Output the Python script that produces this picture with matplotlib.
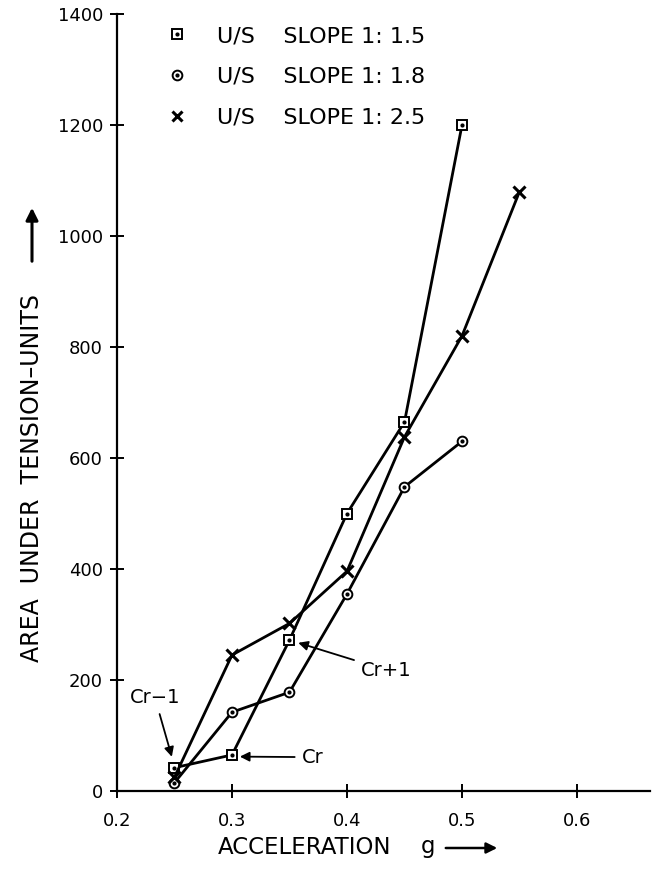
import matplotlib
matplotlib.use("Agg")
from matplotlib import pyplot as plt
from matplotlib.lines import Line2D
from matplotlib.legend_handler import HandlerTuple

accel_15 = [0.25, 0.30, 0.35, 0.40, 0.45, 0.50]
area_15 = [42, 65, 272, 500, 665, 1200]

accel_18 = [0.25, 0.30, 0.35, 0.40, 0.45, 0.50]
area_18 = [15, 142, 178, 355, 548, 630]

accel_25 = [0.25, 0.30, 0.35, 0.40, 0.45, 0.50, 0.55]
area_25 = [25, 245, 302, 396, 638, 820, 1080]

labels = ["U/S    SLOPE 1: 1.5", "U/S    SLOPE 1: 1.8", "U/S    SLOPE 1: 2.5"]
xticks = [0.2, 0.3, 0.4, 0.5, 0.6]
yticks = [0, 200, 400, 600, 800, 1000, 1200, 1400]

plt.rcParams["font.family"] = "DejaVu Sans"

fig = plt.figure(figsize=(6.55, 8.74), dpi=100)
W, H = 655, 874
ax = fig.add_axes([117 / W, 1 - 791 / H, (650 - 117) / W, (791 - 14) / H])

lw = 2.0
# slope 1:1.5 - square with centre dot
ax.plot(accel_15, area_15, color="black", lw=lw, zorder=2)
ax.plot(accel_15, area_15, "s", ms=7, mfc="white", mec="black", mew=1.4, zorder=3)
ax.plot(accel_15, area_15, "o", ms=2, color="black", zorder=4)
# slope 1:1.8 - circle with centre dot
ax.plot(accel_18, area_18, color="black", lw=lw, zorder=2)
ax.plot(accel_18, area_18, "o", ms=7, mfc="white", mec="black", mew=1.4, zorder=3)
ax.plot(accel_18, area_18, "o", ms=2, color="black", zorder=4)
# slope 1:2.5 - cross
ax.plot(accel_25, area_25, color="black", lw=lw, marker="x", ms=8, mew=2.2, zorder=3)

ax.set_xlim(0.2, 0.2 + 533 / 1150)
ax.set_ylim(0, 1400)
ax.set_xticks(xticks)
ax.set_xticklabels([str(t) for t in xticks])
ax.set_yticks(yticks)
ax.spines["top"].set_visible(False)
ax.spines["right"].set_visible(False)
for s in ["left", "bottom"]:
    ax.spines[s].set_linewidth(1.6)
ax.tick_params(direction="inout", length=10, width=1.4, labelsize=13)
ax.tick_params(axis="x", pad=10)
ax.tick_params(axis="y", pad=5)

# legend
h1 = (Line2D([], [], ls="none", marker="s", ms=7, mfc="white", mec="black", mew=1.4),
      Line2D([], [], ls="none", marker="o", ms=2, color="black"))
h2 = (Line2D([], [], ls="none", marker="o", ms=7, mfc="white", mec="black", mew=1.4),
      Line2D([], [], ls="none", marker="o", ms=2, color="black"))
h3 = Line2D([], [], ls="none", marker="x", ms=7, mec="black", mew=2.2)
fig.legend([h1, h2, h3], labels, loc="upper left",
           bbox_to_anchor=(166 / W, 1 - 26 / H), frameon=False,
           handler_map={tuple: HandlerTuple(ndivide=1, pad=0)},
           handlelength=1.0, handletextpad=1.3, labelspacing=0.93,
           borderpad=0, borderaxespad=0, prop={"size": 16})

# annotations
arr = dict(arrowstyle="-|>", color="black", lw=1.3, mutation_scale=14, shrinkA=3, shrinkB=4)
ax.annotate("Cr\u22121", xy=(0.249, 52), xytext=(0.233, 168), fontsize=14,
            ha="center", va="center", arrowprops=arr)
ax.annotate("Cr", xy=(0.302, 62), xytext=(0.37, 61), fontsize=14,
            ha="center", va="center", arrowprops=arr)
ax.annotate("Cr+1", xy=(0.353, 270), xytext=(0.434, 218), fontsize=14,
            ha="center", va="center", arrowprops=arr)

# axis titles with arrows
fig.text(218 / W, 1 - 848 / H, "ACCELERATION", ha="left", va="center", fontsize=16.5)
fig.text(428 / W, 1 - 846 / H, "g", ha="center", va="center", fontsize=16.5)
ax.annotate("", xy=(500 / W, 1 - 848 / H), xytext=(443 / W, 1 - 848 / H),
            xycoords="figure fraction", textcoords="figure fraction",
            arrowprops=dict(arrowstyle="-|>", color="black", lw=1.8, mutation_scale=16))
fig.text(32 / W, 1 - 478 / H, "AREA  UNDER  TENSION\u2013UNITS", rotation=90,
         ha="center", va="center", fontsize=17)
ax.annotate("", xy=(32 / W, 1 - 205 / H), xytext=(32 / W, 1 - 264 / H),
            xycoords="figure fraction", textcoords="figure fraction",
            arrowprops=dict(arrowstyle="-|>", color="black", lw=2.2, mutation_scale=18))

fig.savefig("out.png", dpi=100)
